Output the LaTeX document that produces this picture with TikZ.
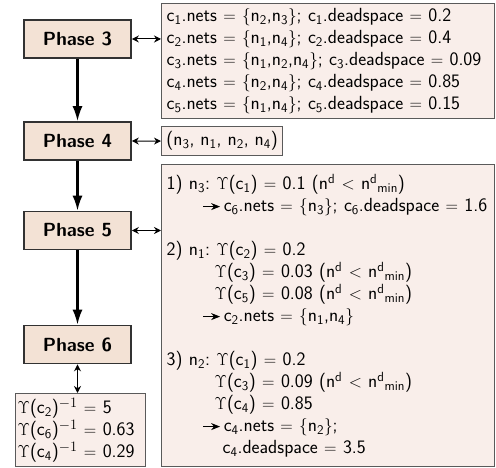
\documentclass[tikz,border=0pt]{standalone}
\usepackage{fontspec}
\usetikzlibrary{arrows.meta}
\frenchspacing
\definecolor{phasefill}{RGB}{243,226,213}
\definecolor{phaseline}{RGB}{50,50,50}
\definecolor{infofill}{RGB}{249,238,234}
\definecolor{infoline}{RGB}{90,90,90}
\newcommand{\sbs}[1]{\textsubscript{#1}}
\newcommand{\sps}[1]{\textsuperscript{#1}}
\newcommand{\Ups}{$\Upsilon$}
\newcommand{\ndmin}{(n\sps{d} $<$ n\sps{d}\sbs{min})}
\newcommand{\resarrow}{\tikz[baseline=-0.6ex]\draw[-{Stealth[length=9pt,width=7pt]},line width=1pt] (0,0)--(17pt,0);}
\begin{document}
\begin{tikzpicture}[x=1pt,y=-1pt,
  phasebox/.style={draw=phaseline, fill=phasefill, line width=1.6pt, minimum width=107pt, minimum height=38pt, inner sep=0pt, font=\fontsize{19}{22}\selectfont\sffamily\bfseries},
  infobox/.style={draw=infoline, fill=infofill, line width=1.2pt, anchor=north west, align=left, inner xsep=5pt, inner ysep=0pt, font=\fontsize{19}{22}\selectfont\sffamily\frenchspacing},
  flow/.style={-{Latex[length=15pt,width=10pt]}, line width=2.2pt, black},
  link/.style={{Stealth[length=7pt,width=7pt]}-{Stealth[length=7pt,width=7pt]}, line width=1pt, black}]
\useasboundingbox (0,0) rectangle (496,468);
\node[phasebox] (p3) at (77.5,39) {Phase 3};
\node[phasebox] (p4) at (77.5,141) {Phase 4};
\node[phasebox] (p5) at (77.5,230.5) {Phase 5};
\node[phasebox] (p6) at (77.5,344.5) {Phase 6};

\node[infobox, minimum width=333pt, minimum height=115pt, text width=323pt] (b1) at (161,3) {%
c\sbs{1}.nets $=$ $\{$n\sbs{2},n\sbs{3}$\}$; c\sbs{1}.deadspace $=$ 0.2\\
c\sbs{2}.nets $=$ $\{$n\sbs{1},n\sbs{4}$\}$; c\sbs{2}.deadspace $=$ 0.4\\
c\sbs{3}.nets $=$ $\{$n\sbs{1},n\sbs{2},n\sbs{4}$\}$; c\sbs{3}.deadspace $=$ 0.09\\
c\sbs{4}.nets $=$ $\{$n\sbs{2},n\sbs{4}$\}$; c\sbs{4}.deadspace $=$ 0.85\\
c\sbs{5}.nets $=$ $\{$n\sbs{1},n\sbs{4}$\}$; c\sbs{5}.deadspace $=$ 0.15};

\node[infobox, minimum width=121pt, minimum height=29pt, inner xsep=4pt] (b2) at (161,126) {(n\sbs{3}, n\sbs{1}, n\sbs{2}, n\sbs{4})};

\node[infobox, minimum width=333pt, minimum height=302pt, text width=323pt] (b3) at (161,164) {%
1) n\sbs{3}: \Ups(c\sbs{1}) $=$ 0.1 \ndmin\\
\hspace*{36pt}\resarrow\,c\sbs{6}.nets $=$ $\{$n\sbs{3}$\}$; c\sbs{6}.deadspace $=$ 1.6\\
\mbox{}\\
2) n\sbs{1}: \Ups(c\sbs{2}) $=$ 0.2\\
\hspace*{48pt}\Ups(c\sbs{3}) $=$ 0.03 \ndmin\\
\hspace*{48pt}\Ups(c\sbs{5}) $=$ 0.08 \ndmin\\
\hspace*{36pt}\resarrow\,c\sbs{2}.nets $=$ $\{$n\sbs{1},n\sbs{4}$\}$\\
\mbox{}\\
3) n\sbs{2}: \Ups(c\sbs{1}) $=$ 0.2\\
\hspace*{48pt}\Ups(c\sbs{3}) $=$ 0.09 \ndmin\\
\hspace*{48pt}\Ups(c\sbs{4}) $=$ 0.85\\
\hspace*{36pt}\resarrow\,c\sbs{4}.nets $=$ $\{$n\sbs{2}$\}$;\\
\hspace*{56pt}c\sbs{4}.deadspace $=$ 3.5};

\node[infobox, minimum width=130pt, minimum height=73pt, text width=126pt, inner xsep=2pt] (b4) at (15,393) {%
\Ups(c\sbs{2})$^{-1}$ $=$ 5\\
\Ups(c\sbs{6})$^{-1}$ $=$ 0.63\\
\Ups(c\sbs{4})$^{-1}$ $=$ 0.29};

\draw[flow] (p3) -- (p4);
\draw[flow] (p4) -- (p5);
\draw[flow] (p5) -- (p6);
\draw[link] (p3.east) -- (p3.east -| b1.west);
\draw[link] (p4.east) -- (b2.west);
\draw[link] (p5.east) -- (p5.east -| b3.west);
\draw[link] (p6.south) -- (b4.north -| p6.south);
\end{tikzpicture}
\end{document}
